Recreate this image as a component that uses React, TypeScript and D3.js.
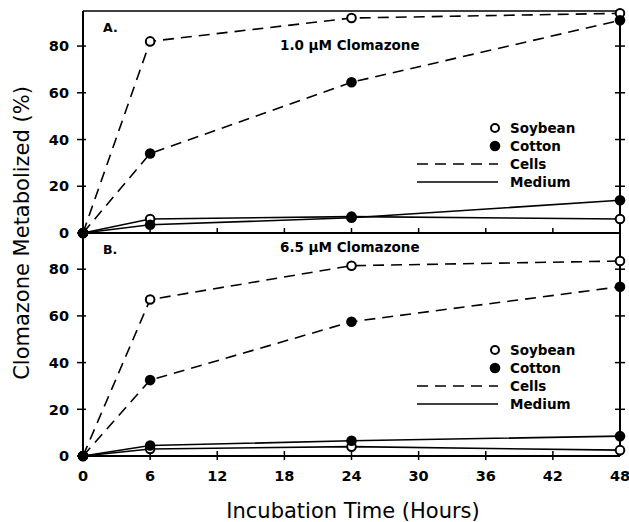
import React from "react"
import * as d3 from "d3"

// incubation times (hours) and % metabolized
const hours = [0, 6, 24, 48]
const soyCellsA = [0, 82, 92, 94]
const cottonCellsA = [0, 34, 64.5, 91]
const soyMediumA = [0, 6, 7, 6]
const cottonMediumA = [0, 3.5, 6.5, 14]

const soyCellsB = [0, 67, 81.5, 83.5]
const cottonCellsB = [0, 32.5, 57.5, 72.5]
const soyMediumB = [0, 3, 4, 2.5]
const cottonMediumB = [0, 4.5, 6.5, 8.5]

const xTicks = [0, 6, 12, 18, 24, 30, 36, 42, 48]
const yTicks = [0, 20, 40, 60, 80]
const legendLabels = ["Soybean", "Cotton", "Cells", "Medium"]

const W = 629
const H = 522
const left = 83
const right = 620
const font = "'DejaVu Sans', sans-serif"

const scaleX = d3.scaleLinear().domain([0, 48]).range([left, right])

const panels = [
  {
    label: "A.",
    title: "1.0 \u00b5M Clomazone",
    titleY: 50,
    yScale: d3.scaleLinear().domain([0, 95]).range([233, 11]),
    series: [
      { values: soyCellsA, open: true, dashed: true },
      { values: cottonCellsA, open: false, dashed: true },
      { values: soyMediumA, open: true, dashed: false },
      { values: cottonMediumA, open: false, dashed: false },
    ],
    legendY: 128,
  },
  {
    label: "B.",
    title: "6.5 \u00b5M Clomazone",
    titleY: 252,
    yScale: d3.scaleLinear().domain([0, 95.5]).range([456, 233]),
    series: [
      { values: soyCellsB, open: true, dashed: true },
      { values: cottonCellsB, open: false, dashed: true },
      { values: soyMediumB, open: true, dashed: false },
      { values: cottonMediumB, open: false, dashed: false },
    ],
    legendY: 350,
  },
]

const Panel = ({ p, bottom }: { p: typeof panels[0]; bottom: boolean }) => {
  const y = p.yScale
  const [y0, y1] = y.range()
  const line = d3.line<number>()
    .x((_, i) => scaleX(hours[i]))
    .y(d => y(d))

  return (
    <g>
      {/* axes frame */}
      <line x1={left} x2={left} y1={y0} y2={y1} stroke="#000" strokeWidth={2} />
      <line x1={right} x2={right} y1={y0} y2={y1} stroke="#000" strokeWidth={2} />
      <line x1={left} x2={right} y1={y0} y2={y0} stroke="#000" strokeWidth={2} />
      {!bottom && <line x1={left} x2={right} y1={y1} y2={y1} stroke="#000" strokeWidth={1.5} />}

      {yTicks.map(t => (
        <g key={t}>
          <line x1={left - 6} x2={left + 3} y1={y(t)} y2={y(t)} stroke="#000" strokeWidth={1.5} />
          {t > 0 && <line x1={right - 5} x2={right + 5} y1={y(t)} y2={y(t)} stroke="#000" strokeWidth={1.5} />}
          <text x={left - 14} y={y(t)} dy="0.36em" textAnchor="end"
            fontFamily={font} fontWeight="bold" fontSize={14.5}>{t}</text>
        </g>
      ))}
      {xTicks.slice(1, -1).map(t => (
        <line key={t} x1={scaleX(t)} x2={scaleX(t)} y1={y0 - 5} y2={y0 + (bottom ? 4 : 0)}
          stroke="#000" strokeWidth={1.5} />
      ))}

      <text x={103} y={y1 + 21} fontFamily={font} fontWeight="bold" fontSize={12.5}>{p.label}</text>
      <text x={280} y={p.titleY} fontFamily={font} fontWeight="bold" fontSize={13.5}>{p.title}</text>

      {p.series.map((s, i) => (
        <path key={i} d={line(s.values) ?? ""} fill="none" stroke="#000"
          strokeWidth={1.6} strokeDasharray={s.dashed ? "11,7" : undefined} />
      ))}
      {p.series.map((s, i) => s.values.map((v, j) => (
        <circle key={`${i}-${j}`} cx={scaleX(hours[j])} cy={y(v)}
          r={s.open ? 4.3 : 5.3} fill={s.open ? "#fff" : "#000"}
          stroke="#000" strokeWidth={s.open ? 2 : 0} />
      )))}

      {/* legend */}
      <g fontFamily={font} fontWeight="bold" fontSize={13.5}>
        <circle cx={495} cy={p.legendY} r={4} fill="#fff" stroke="#000" strokeWidth={2} />
        <circle cx={495} cy={p.legendY + 18} r={5.3} fill="#000" />
        <line x1={417} x2={498} y1={p.legendY + 36} y2={p.legendY + 36} stroke="#000"
          strokeWidth={1.6} strokeDasharray="11,7" />
        <line x1={417} x2={498} y1={p.legendY + 54} y2={p.legendY + 54} stroke="#000" strokeWidth={1.6} />
        {legendLabels.map((l, i) => (
          <text key={l} x={510} y={p.legendY + i * 18} dy="0.36em">{l}</text>
        ))}
      </g>
    </g>
  )
}

export default function App() {
  return (
    <svg width={W} height={H} style={{ position: "absolute", left: 0, top: 0, background: "#fff" }}>
      <Panel p={panels[0]} bottom={false} />
      <Panel p={panels[1]} bottom={true} />
      {xTicks.map(t => (
        <text key={t} x={scaleX(t)} y={481} textAnchor="middle"
          fontFamily={font} fontWeight="bold" fontSize={14.5}>{t}</text>
      ))}
      <text x={353} y={518} textAnchor="middle" fontFamily={font} fontSize={21}>Incubation Time (Hours)</text>
      <text transform="translate(29,233) rotate(-90)" textAnchor="middle"
        fontFamily={font} fontSize={21}>Clomazone Metabolized (%)</text>
    </svg>
  )
}
